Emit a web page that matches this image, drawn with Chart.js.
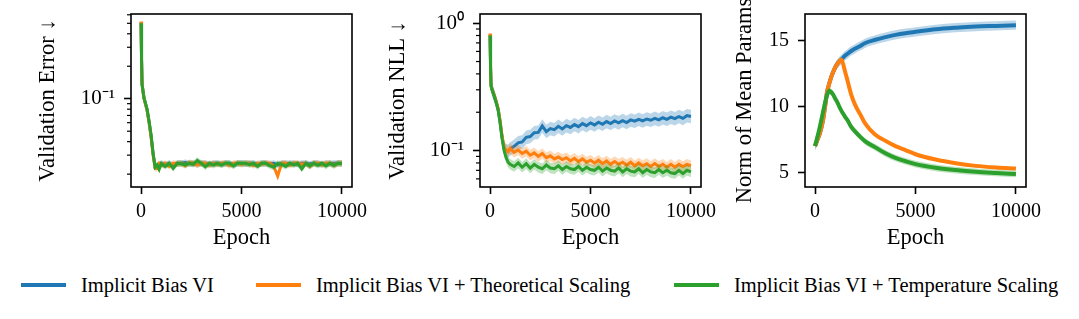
<!DOCTYPE html>
<html>
<head>
<meta charset="utf-8">
<script src="https://cdn.jsdelivr.net/npm/chart.js@4.4.1/dist/chart.umd.min.js"></script>
<style>
  body { margin: 0; background: #fff; width: 1079px; height: 319px; position: relative; overflow: hidden; font-family: "Liberation Serif", serif; }
  canvas { position: absolute; top: 0; }
  .legline { position: absolute; top: 283px; width: 45px; height: 4px; }
  .legtext { position: absolute; top: 273px; line-height: 24px; font-size: 20.5px; color: #000; white-space: nowrap; }
</style>
</head>
<body>
<canvas id="err" width="370" height="260" style="left:0px"></canvas>
<canvas id="nll" width="355" height="260" style="left:370px"></canvas>
<canvas id="norm" width="354" height="260" style="left:725px"></canvas>
<div id="legend"></div>
<script>
// epochs shared by the two validation panels
const epochs = [0, 25, 50, 100, 150, 200, 300, 400, 500, 600, 700, 800, 900, 1000,
  1200, 1400, 1600, 1800, 2000, 2200, 2400, 2600, 2800, 3000,
  3200, 3400, 3600, 3800, 4000, 4200, 4400, 4600, 4800, 5000,
  5200, 5400, 5600, 5800, 6000, 6200, 6400, 6600, 6800, 7000,
  7200, 7400, 7600, 7800, 8000, 8200, 8400, 8600, 8800, 9000,
  9200, 9400, 9600, 9800, 10000];

// Validation Error
const errBlue = [0.51, 0.235, 0.138, 0.116, 0.101, 0.093, 0.079, 0.061, 0.045, 0.031, 0.0234, 0.0238, 0.0246, 0.0252,
  0.0244, 0.0252, 0.0240, 0.0252, 0.0252, 0.0256, 0.0250, 0.0252, 0.0246, 0.0252,
  0.0252, 0.0246, 0.0252, 0.0252, 0.0248, 0.0252, 0.0252, 0.0244, 0.0252, 0.0252,
  0.0250, 0.0252, 0.0252, 0.0246, 0.0252, 0.0252, 0.0248, 0.0252, 0.0244, 0.0252,
  0.0252, 0.0250, 0.0252, 0.0246, 0.0252, 0.0252, 0.0248, 0.0252, 0.0252, 0.0246,
  0.0252, 0.0250, 0.0252, 0.0252, 0.0252];
const errOrange = [0.52, 0.24, 0.14, 0.115, 0.102, 0.092, 0.078, 0.060, 0.044, 0.030, 0.0228, 0.0226, 0.0250, 0.0240,
  0.0252, 0.0236, 0.0252, 0.0248, 0.0252, 0.0240, 0.0256, 0.0252, 0.0244, 0.0252,
  0.0252, 0.0242, 0.0252, 0.0246, 0.0252, 0.0252, 0.0240, 0.0252, 0.0252, 0.0247,
  0.0252, 0.0252, 0.0240, 0.0252, 0.0249, 0.0252, 0.0252, 0.0238, 0.0192, 0.0252,
  0.0252, 0.0242, 0.0252, 0.0252, 0.0246, 0.0252, 0.0236, 0.0252, 0.0252, 0.0244,
  0.0252, 0.0252, 0.0242, 0.0252, 0.0252];
const errGreen = [0.50, 0.23, 0.135, 0.118, 0.100, 0.094, 0.080, 0.062, 0.046, 0.031, 0.0232, 0.0243, 0.0222, 0.0250,
  0.0236, 0.0252, 0.0226, 0.0252, 0.0250, 0.0244, 0.0252, 0.0247, 0.0268, 0.0252,
  0.0234, 0.0252, 0.0242, 0.0252, 0.0243, 0.0252, 0.0252, 0.0238, 0.0252, 0.0252,
  0.0252, 0.0245, 0.0252, 0.0236, 0.0252, 0.0252, 0.0240, 0.0232, 0.0252, 0.0246,
  0.0236, 0.0252, 0.0244, 0.0252, 0.0224, 0.0252, 0.0238, 0.0252, 0.0241, 0.0252,
  0.0238, 0.0252, 0.0240, 0.0252, 0.0250];

// Validation NLL
const nllBlue = [0.81, 0.46, 0.325, 0.30, 0.286, 0.272, 0.242, 0.212, 0.168, 0.127, 0.104, 0.100, 0.099, 0.103,
  0.108, 0.115, 0.117, 0.127, 0.129, 0.138, 0.139, 0.156, 0.141, 0.149,
  0.146, 0.155, 0.148, 0.157, 0.152, 0.160, 0.154, 0.163, 0.157, 0.165,
  0.159, 0.167, 0.161, 0.169, 0.163, 0.171, 0.165, 0.172, 0.166, 0.174,
  0.170, 0.176, 0.171, 0.177, 0.173, 0.179, 0.174, 0.181, 0.176, 0.183,
  0.178, 0.185, 0.179, 0.188, 0.185];
const nllOrange = [0.83, 0.47, 0.33, 0.30, 0.288, 0.274, 0.245, 0.215, 0.172, 0.130, 0.106, 0.101, 0.098, 0.104,
  0.097, 0.101, 0.095, 0.099, 0.092, 0.096, 0.090, 0.095, 0.088, 0.091,
  0.086, 0.089, 0.085, 0.088, 0.083, 0.087, 0.082, 0.086, 0.081, 0.084,
  0.080, 0.084, 0.079, 0.083, 0.078, 0.082, 0.078, 0.081, 0.077, 0.081,
  0.076, 0.080, 0.076, 0.079, 0.075, 0.079, 0.075, 0.078, 0.074, 0.078,
  0.074, 0.078, 0.075, 0.078, 0.076];
const nllGreen = [0.80, 0.45, 0.32, 0.30, 0.285, 0.270, 0.240, 0.210, 0.165, 0.124, 0.100, 0.088, 0.081, 0.078,
  0.075, 0.080, 0.074, 0.079, 0.073, 0.078, 0.074, 0.072, 0.077, 0.073,
  0.072, 0.076, 0.071, 0.075, 0.072, 0.071, 0.075, 0.070, 0.074, 0.071,
  0.070, 0.074, 0.069, 0.073, 0.070, 0.069, 0.073, 0.068, 0.072, 0.069,
  0.068, 0.072, 0.067, 0.071, 0.068, 0.067, 0.071, 0.067, 0.070, 0.067,
  0.066, 0.070, 0.066, 0.070, 0.068];

// Norm of Mean Params
const normEpochs = [0, 100, 200, 300, 400, 500, 600, 700, 800, 900, 1000, 1100, 1200, 1300, 1400, 1500, 1600,
  1800, 2000, 2250, 2500, 3000, 3500, 4000, 4500, 5000, 6000, 7000, 8000, 9000, 10000];
const normBlue = [7.0, 7.4, 7.8, 8.3, 9.0, 10.0, 11.1, 11.7, 12.2, 12.6, 12.95, 13.2, 13.4, 13.55, 13.7, 13.85, 13.97,
  14.2, 14.38, 14.58, 14.8, 15.05, 15.25, 15.42, 15.55, 15.65, 15.84, 15.96, 16.05, 16.1, 16.15];
const normOrange = [7.0, 7.4, 7.8, 8.3, 9.0, 10.0, 11.1, 11.7, 12.2, 12.6, 12.95, 13.2, 13.4, 13.55, 13.2, 12.6, 12.05,
  10.9, 10.1, 9.4, 8.7, 7.85, 7.4, 7.0, 6.7, 6.38, 5.98, 5.7, 5.5, 5.38, 5.3];
const normGreen = [7.0, 7.6, 8.2, 8.9, 9.6, 10.3, 10.85, 11.18, 11.1, 10.9, 10.6, 10.35, 10.0, 9.7, 9.45, 9.2, 9.0,
  8.45, 8.1, 7.7, 7.35, 6.9, 6.45, 6.1, 5.85, 5.63, 5.35, 5.18, 5.05, 4.96, 4.88];

// band half-widths (relative for log panels, absolute for the norm panel)
const errSpread = [0.07, 0.07, 0.07];
const nllSpread = [0.13, 0.10, 0.10];
const normSpread = [0.35, 0.1, 0.25];

const seriesNames = ["Implicit Bias VI", "Implicit Bias VI + Theoretical Scaling", "Implicit Bias VI + Temperature Scaling"];
const xTicks = [0, 5000, 10000];
const errTicks = [0.1];
const errTickLabels = ["10⁻¹"];
const errMinor = [0.02, 0.03, 0.04, 0.05, 0.06, 0.07, 0.08, 0.09, 0.2, 0.3, 0.4, 0.5, 0.6];
const nllTicks = [0.1, 1];
const nllTickLabels = ["10⁻¹", "10⁰"];
const nllMinor = [0.06, 0.07, 0.08, 0.09, 0.2, 0.3, 0.4, 0.5, 0.6, 0.7, 0.8, 0.9];
const normTicks = [5, 10, 15];

const colors = ["#1f77b4", "#ff7f0e", "#2ca02c"];
const bandColors = ["rgba(31,119,180,0.3)", "rgba(255,127,14,0.3)", "rgba(44,160,44,0.3)"];
const FONT = "Liberation Serif";

function makeSets(xs, series, spread, relative, smooth, lw) {
  const sets = [];
  const pts = arr => arr.map((v, k) => ({ x: xs[k], y: v }));
  const interp = smooth ? "monotone" : "default";
  // first dataset is drawn on top, so green goes first
  for (let i = series.length - 1; i >= 0; i--) {
    const ys = series[i];
    const hi = ys.map(v => relative ? v * (1 + spread[i]) : v + spread[i]);
    const lo = ys.map(v => relative ? v / (1 + spread[i]) : v - spread[i]);
    sets.push({ data: pts(ys), borderColor: colors[i], borderWidth: lw, pointRadius: 0, fill: false, cubicInterpolationMode: interp });
    sets.push({ data: pts(hi), borderColor: "transparent", borderWidth: 0, pointRadius: 0, fill: false, cubicInterpolationMode: interp });
    sets.push({ data: pts(lo), borderColor: "transparent", borderWidth: 0, pointRadius: 0, fill: "-1", backgroundColor: bandColors[i], cubicInterpolationMode: interp });
  }
  return sets;
}

const frame = {
  id: "frame",
  afterDraw(chart) {
    const { ctx, chartArea: a } = chart;
    ctx.save();
    ctx.strokeStyle = "#000";
    ctx.lineWidth = 1.6;
    ctx.strokeRect(a.left, a.top, a.right - a.left, a.bottom - a.top);
    ctx.restore();
  }
};

const minorTicks = {
  id: "minorTicks",
  afterDraw(chart, args, opts) {
    if (!opts.values) return;
    const { ctx, chartArea: a } = chart;
    const y = chart.scales.y;
    ctx.save();
    ctx.strokeStyle = "#000";
    ctx.lineWidth = 1.2;
    opts.values.forEach(v => {
      const p = y.getPixelForValue(v);
      if (p < a.top - 0.5 || p > a.bottom + 0.5) return;
      ctx.beginPath();
      ctx.moveTo(a.left - 4, p);
      ctx.lineTo(a.left, p);
      ctx.stroke();
    });
    ctx.restore();
  }
};

function makeChart(id, pad, yWidth, datasets, yScale, title, minor) {
  const axisCommon = {
    grid: { drawOnChartArea: false, drawTicks: true, tickLength: 7, tickWidth: 1.6, tickColor: "#000" },
    border: { display: false },
    ticks: { color: "#000", font: { family: FONT, size: 20 }, padding: 8 }
  };
  new Chart(document.getElementById(id), {
    type: "line",
    data: { datasets: datasets },
    options: {
      responsive: false,
      animation: false,
      layout: { padding: { left: pad[0], right: pad[1], top: 14, bottom: 8 } },
      plugins: { legend: { display: false }, tooltip: { enabled: false }, minorTicks: { values: minor } },
      scales: {
        x: Object.assign({}, axisCommon, {
          type: "linear", min: -500, max: 10500,
          afterBuildTicks: s => { s.ticks = xTicks.map(v => ({ value: v })); },
          afterFit: s => { s.height = 65; s.paddingLeft = 0; s.paddingRight = 0; },
          ticks: Object.assign({}, axisCommon.ticks, { padding: 6, maxRotation: 0, callback: v => String(v) }),
          title: { display: true, text: "Epoch", color: "#000", font: { family: FONT, size: 22.5 }, padding: 0 }
        }),
        y: Object.assign({}, axisCommon, yScale, {
          afterFit: s => { s.width = yWidth; s.paddingTop = 0; s.paddingBottom = 0; },
          title: { display: true, text: title, color: "#000", font: { family: FONT, size: 22.5 }, padding: 0 }
        })
      }
    },
    plugins: [frame, minorTicks]
  });
}

makeChart("err", [35, 18], 96,
  makeSets(epochs, [errBlue, errOrange, errGreen], errSpread, true, false, 3),
  {
    type: "logarithmic", min: 0.0152, max: 0.61,
    afterBuildTicks: s => { s.ticks = errTicks.map(v => ({ value: v })); },
    ticks: { color: "#000", font: { family: FONT, size: 21 }, padding: 9, callback: v => errTickLabels[errTicks.indexOf(v)] }
  },
  "Validation Error ↓", errMinor);

makeChart("nll", [15, 24], 95,
  makeSets(epochs, [nllBlue, nllOrange, nllGreen], nllSpread, true, false, 3),
  {
    type: "logarithmic", min: 0.0518, max: 1.18,
    afterBuildTicks: s => { s.ticks = nllTicks.map(v => ({ value: v })); },
    ticks: { color: "#000", font: { family: FONT, size: 21 }, padding: 9, callback: v => nllTickLabels[nllTicks.indexOf(v)] }
  },
  "Validation NLL ↓", nllMinor);

makeChart("norm", [7, 53], 73,
  makeSets(normEpochs, [normBlue, normOrange, normGreen], normSpread, false, true, 4),
  {
    type: "linear", min: 3.9, max: 17.0,
    afterBuildTicks: s => { s.ticks = normTicks.map(v => ({ value: v })); },
    ticks: { color: "#000", font: { family: FONT, size: 20 }, padding: 9, callback: v => String(v) }
  },
  "Norm of Mean Params", null);

// legend across the bottom
const legendX = [21, 256, 674];
const legend = document.getElementById("legend");
seriesNames.forEach((name, i) => {
  const line = document.createElement("div");
  line.className = "legline";
  line.style.left = legendX[i] + "px";
  line.style.background = colors[i];
  legend.appendChild(line);
  const txt = document.createElement("div");
  txt.className = "legtext";
  txt.style.left = (legendX[i] + 60) + "px";
  txt.textContent = name;
  legend.appendChild(txt);
});
</script>
</body>
</html>
